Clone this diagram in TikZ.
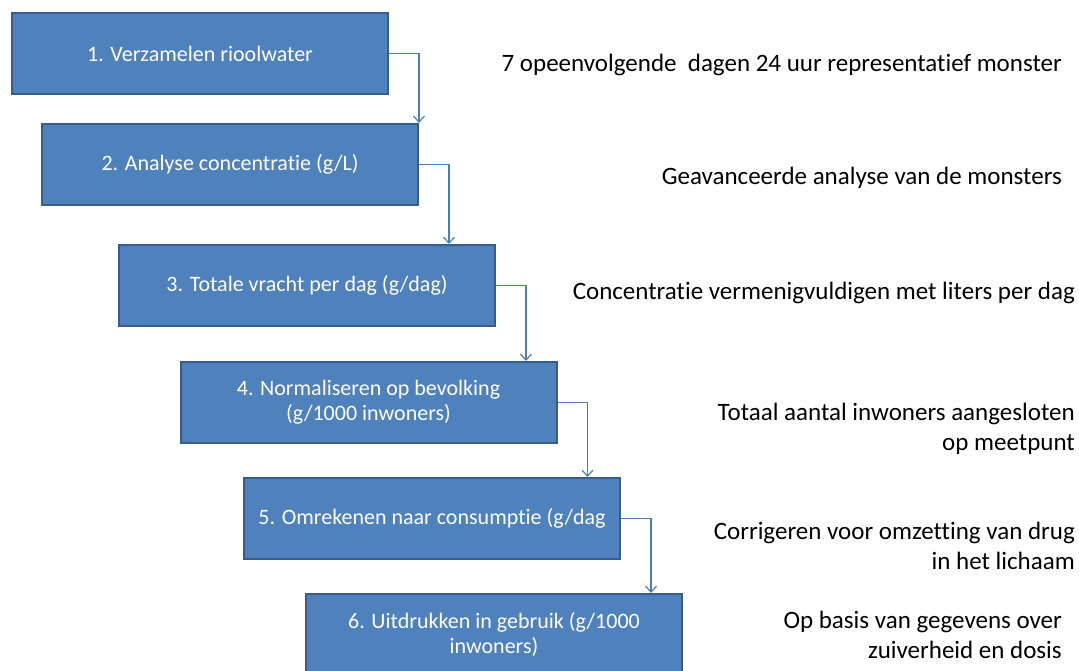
\documentclass[tikz,border=0pt]{standalone}
\usepackage{fontspec}
\setmainfont{Carlito}[RawFeature={-liga}]
\usetikzlibrary{arrows.meta}
\definecolor{boxfill}{HTML}{4F81BD}
\definecolor{boxline}{HTML}{385D8A}
\definecolor{conn}{HTML}{4A7EBB}
\begin{document}
\begin{tikzpicture}[x=1pt,y=-1pt,
  stepbox/.style={draw=boxline, line width=2pt, fill=boxfill, text=white,
    minimum width=376pt, minimum height=81pt, inner sep=0pt, align=center,
    font=\fontsize{22}{25}\selectfont},
  note/.style={anchor=east, align=right, inner sep=0pt, text=black,
    font=\fontsize{25}{30}\selectfont},
  arr/.style={draw=conn, line width=1.2pt, -{Straight Barb[length=6pt,width=11pt,line width=1.2pt]}}]
\useasboundingbox (0,0) rectangle (1079,670);
\clip (0,0) rectangle (1079,670);
\node[stepbox] (b1) at (200,53.5) {1. Verzamelen rioolwater};
\node[stepbox] (b2) at (230,164.5) {2. Analyse concentratie (g/L)};
\node[stepbox] (b3) at (307,285.5) {3. Totale vracht per dag (g/dag)};
\node[stepbox] (b4) at (368.5,402.5) {4. Normaliseren op bevolking\\(g/1000 inwoners)};
\node[stepbox] (b5) at (432,518.5) {5. Omrekenen naar consumptie (g/dag};
\node[stepbox] (b6) at (494,634.5) {6. Uitdrukken in gebruik (g/1000\\inwoners)};
\foreach \i/\j in {1/2,2/3,3/4,4/5,5/6}{
  \coordinate (c\i) at ([xshift=30pt]b\i.east);
  \draw[arr] (b\i.east) -- (c\i) -- (c\i |- b\j.north);
}
\node[note] (t1) at (1062,65) {7 opeenvolgende\ \ dagen 24 uur representatief monster};
\node[note] (t2) at (1062,178) {Geavanceerde analyse van de monsters};
\node[note] (t3) at (1075,293) {Concentratie vermenigvuldigen met liters per dag};
\node[note] (t4) at (1075,429) {Totaal aantal inwoners aangesloten\\op meetpunt};
\node[note] (t5) at (1075,546) {Corrigeren voor omzetting van drug\\in het lichaam};
\node[note] (t6) at (1062,635) {Op basis van gegevens over\\zuiverheid en dosis};
\end{tikzpicture}
\end{document}
